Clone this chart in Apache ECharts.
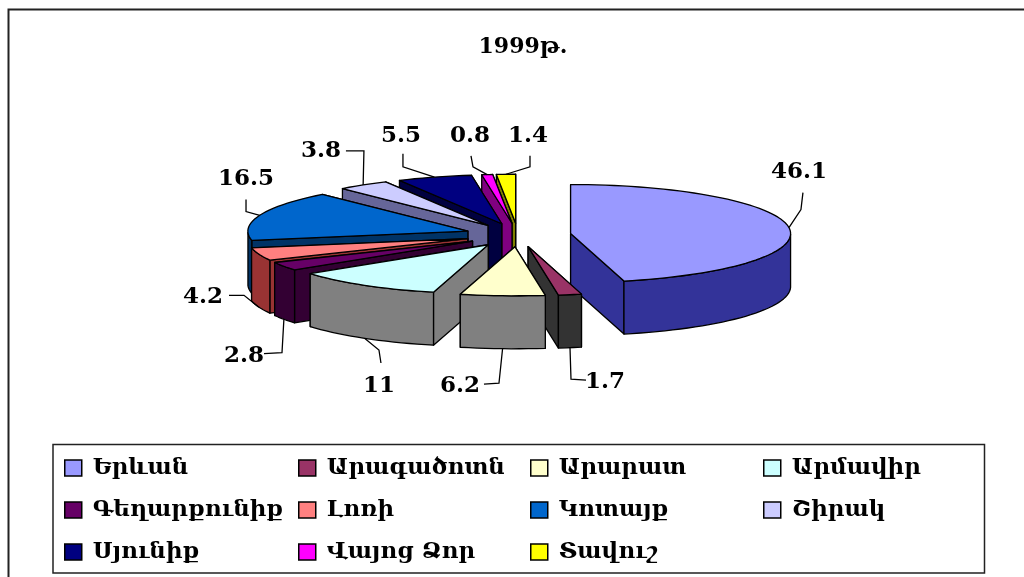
<!DOCTYPE html>
<html><head><meta charset="utf-8">
<style>html,body{margin:0;padding:0;background:#fff}#c{width:1024px;height:577px}</style>
<script src="https://cdn.jsdelivr.net/npm/echarts@6/dist/echarts.min.js"></script>
</head><body><div id="c"></div>
<script>
const regions = ['Երևան','Արագածոտն','Արարատ','Արմավիր','Գեղարքունիք','Լոռի','Կոտայք','Շիրակ','Սյունիք','Վայոց Ձոր','Տավուշ'];
const shares = [46.1,1.7,6.2,11,2.8,4.2,16.5,3.8,5.5,0.8,1.4];
const topColors = ['#9999FF','#993366','#FFFFCC','#CCFFFF','#660066','#FF8080','#0066CC','#CCCCFF','#000080','#FF00FF','#FFFF00'];
const sideColors = ['#333399','#333333','#808080','#808080','#330033','#993333','#003366','#666699','#000040','#800080','#808000'];
const legendColumns = [[0,4,8],[1,5,9],[2,6,10],[3,7]];
const legendLeft = [64,298,530,763];

// Pie projection
const CX=518, CY=235, RX=220, RY=49, DEPTH=53, EXPLODE=53;
const total = shares.reduce((a,b)=>a+b,0);
const startPct = shares.map((v,i)=>shares.slice(0,i).reduce((a,b)=>a+b,0));

// Leader routes, as offsets from the slice's rim midpoint: [fromWallBottom, [elbows...], labelOffset]
const leaders = [
 [0,[[12,-18],[14,-35]],[10,-56]],
 [1,[[1,31.5],[16,32.5]],[35,34.5]],
 [1,[[-3.6,34.5],[-18.6,35.5]],[-42.6,37.5]],
 [1,[[14.4,11.7],[16.4,24.7]],[14.4,47.7]],
 [1,[[-1.9,33.4],[-19.9,34.4]],[-39.9,36.4]],
 [1,[[-14.9,-11.8],[-29.9,-11.8]],[-55.9,-9.8]],
 [0,[[-13.7,-3.7],[-13.7,-15.7]],[-13.7,-36.7]],
 [0,[[0.8,-34],[-17.2,-34]],[-42.2,-34]],
 [0,[[-31.5,-10.3],[-31.5,-23.3]],[-33.5,-41.3]],
 [0,[[-14.2,-7.8],[-16.2,-18.8]],[-17.2,-38.8]],
 [0,[[24,-7.5],[24,-18.5]],[22,-38.5]]
];

function renderSlice(i){
  return function(params, api){
    const value = api.value(0);
    const a0 = startPct[i]/total*2*Math.PI, a1 = a0 + value/total*2*Math.PI, mid=(a0+a1)/2;
    const ax = CX + EXPLODE*Math.sin(mid), ay = CY - EXPLODE*(RY/RX)*Math.cos(mid);
    const P = a => [ax+RX*Math.sin(a), ay-RY*Math.cos(a)];
    const steps = Math.max(3, Math.ceil((a1-a0)/0.04));
    const arc = []; for(let k=0;k<=steps;k++) arc.push(P(a0+(a1-a0)*k/steps));
    const down = p => [p[0], p[1]+DEPTH];
    const lineStyle = {stroke:'#000', lineWidth:1.3, lineJoin:'round'};
    const face = (pts,fill) => ({type:'polygon', shape:{points:pts}, style:Object.assign({fill},lineStyle), silent:true});
    const apex=[ax,ay];
    const faces=[];
    const cut1=[apex,arc[0],down(arc[0]),down(apex)];
    const cut2=[apex,arc[steps],down(arc[steps]),down(apex)];
    faces.push({pts:cut1},{pts:cut2});
    const front=arc.filter(p=>p[1]>=ay-0.001);
    if(front.length>1) faces.push({pts:front.concat(front.slice().reverse().map(down))});
    faces.forEach(f=>f.y=f.pts.reduce((s,p)=>s+p[1],0)/f.pts.length);
    faces.sort((x,y)=>x.y-y.y);
    const children=faces.map(f=>face(f.pts,sideColors[i]));
    children.push(face([apex].concat(arc),topColors[i]));
    return {type:'group', children};
  };
}
function renderLeader(i){
  return function(params, api){
    const value = api.value(0);
    const a0 = startPct[i]/total*2*Math.PI, a1 = a0 + value/total*2*Math.PI, mid=(a0+a1)/2;
    const L = leaders[i];
    const x0 = CX+(EXPLODE+RX)*Math.sin(mid), y0 = CY-(EXPLODE+RX)*(RY/RX)*Math.cos(mid)+(L[0]?DEPTH:0);
    const pts=[[x0,y0]].concat(L[1].map(o=>[x0+o[0],y0+o[1]]));
    return {type:'group',children:[
      {type:'polyline',shape:{points:pts},style:{stroke:'#000',lineWidth:1.3,fill:null},silent:true},
      {type:'text',x:x0+L[2][0],y:y0+L[2][1],style:{text:String(value),fill:'#000',align:'center',verticalAlign:'middle',
        font:'bold 23px "DejaVu Serif"'},silent:true}
    ]};
  };
}
// back-to-front order of the slices
const midPct = shares.map((v,i)=>startPct[i]+v/2);
const depthOrder = shares.map((v,i)=>i).sort((a,b)=>Math.cos(midPct[b]/total*2*Math.PI)-Math.cos(midPct[a]/total*2*Math.PI));
const series = regions.map((name,i)=>({
  type:'custom', name, coordinateSystem:'none', silent:true, animation:false,
  z:2,
  itemStyle:{color:topColors[i]},
  data:[[shares[i]]],
  renderItem:renderSlice(i)
}));
const orderedSeries = depthOrder.map(i=>series[i]);
const leaderSeries = regions.map((name,i)=>({
  type:'custom', name:'leader'+i, coordinateSystem:'none', silent:true, animation:false, z:3,
  data:[[shares[i]]], renderItem:renderLeader(i)
}));

const legends = legendColumns.map((col,c)=>({
  orient:'vertical', left:legendLeft[c], top:456, itemGap:18, itemWidth:17, itemHeight:16, icon:'rect',
  selectedMode:false, padding:0,
  itemStyle:{borderColor:'#000',borderWidth:1.5},
  textStyle:{color:'#000',fontFamily:'"DejaVu Serif"',fontWeight:'bold',fontSize:23,lineHeight:24,padding:[0,0,0,6]},
  data:col.map(i=>regions[i])
}));

const chart = echarts.init(document.getElementById('c'),null,{renderer:'canvas'});
chart.setOption({
  animation:false, backgroundColor:'#fff',
  title:{text:'1999թ.',left:518,top:31,textAlign:'center',textStyle:{fontFamily:'"DejaVu Serif"',fontWeight:'bold',fontSize:22,color:'#000'}},
  legend:legends,
  graphic:[
    {type:'polyline',shape:{points:[[8.5,577],[8.5,9.5],[1024,9.5]]},style:{stroke:'#222',lineWidth:2,fill:null},silent:true},
    {type:'rect',shape:{x:53,y:444.5,width:931.5,height:128.5},style:{stroke:'#222',fill:null,lineWidth:1.5},silent:true}
  ],
  series:orderedSeries.concat(leaderSeries)
});
</script></body></html>
